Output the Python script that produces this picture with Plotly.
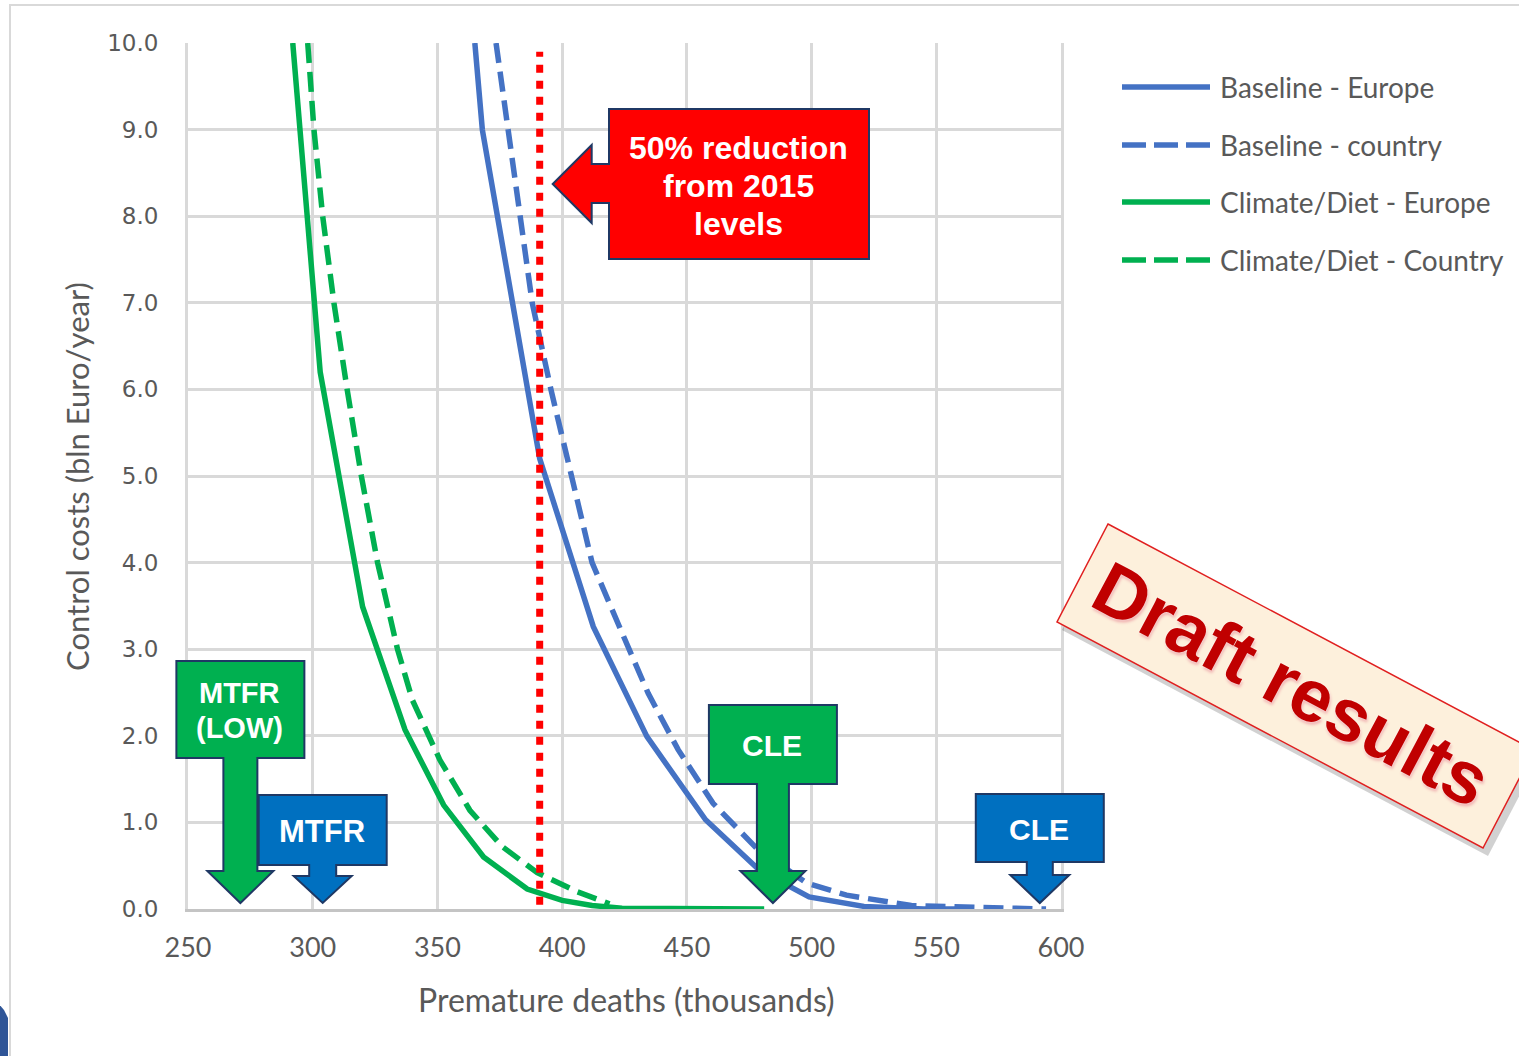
import plotly.graph_objects as go

# ---------------- data ----------------
x_ticks = [250, 300, 350, 400, 450, 500, 550, 600]
y_ticks = [0, 1, 2, 3, 4, 5, 6, 7, 8, 9, 10]

series_names = ["Baseline - Europe", "Baseline - country",
                "Climate/Diet - Europe", "Climate/Diet - Country"]
series_colors = ["#4472C4", "#4472C4", "#00B050", "#00B050"]
series_dashed = [False, True, False, True]

baseline_europe_x = [365, 368, 391, 412.5, 434, 457.5, 479, 499, 521, 545, 565]
baseline_europe_y = [10.0, 9.0, 5.2, 3.26, 1.99, 1.03, 0.45, 0.14, 0.03, 0.0, 0.0]

baseline_country_x = [373.5, 378.5, 383, 388, 395.5, 403.5, 412, 424, 434.5, 446.5,
                      460.5, 478, 498, 514, 540, 594]
baseline_country_y = [10.0, 9.0, 8.0, 7.0, 6.0, 5.0, 4.0, 3.19, 2.49, 1.84,
                      1.22, 0.70, 0.30, 0.16, 0.04, 0.0]

climate_europe_x = [292, 303, 320, 337, 352.5, 368.5, 386, 400, 412, 424, 481]
climate_europe_y = [10.0, 6.2, 3.49, 2.07, 1.2, 0.6, 0.23, 0.1, 0.04, 0.01, 0.0]

climate_country_x = [298, 300.5, 304, 308.5, 313.8, 319.5, 326, 334, 340, 351,
                     363, 376, 390, 406, 419]
climate_country_y = [10.0, 9.0, 8.0, 7.0, 6.0, 5.0, 4.0, 3.0, 2.41, 1.72,
                     1.14, 0.72, 0.42, 0.2, 0.06]

series_x = [baseline_europe_x, baseline_country_x, climate_europe_x, climate_country_x]
series_y = [baseline_europe_y, baseline_country_y, climate_europe_y, climate_country_y]

target_x = 391            # 50% reduction from 2015 levels
target_y = [0.05, 9.9]
target_label = ["50% reduction", "from 2015", "levels"]

callout_labels = [["MTFR", "(LOW)"], ["MTFR"], ["CLE"], ["CLE"]]
callout_x = [271, 304, 484.5, 591.5]
callout_fill = ["#00B050", "#0070C0", "#00B050", "#0070C0"]

stamp_text = "Draft results"

x_title = "Premature deaths (thousands)"
y_title = "Control costs (bln Euro/year)"

# ---------------- geometry helpers (pixels -> paper) ----------------
W, H = 1519, 1056
L, T = 188, 43
PW, PH = 873, 866
XR = (250, 600)


def X(v):
    return L + (v - XR[0]) / (XR[1] - XR[0]) * PW


def P(px, py):
    return (px - L) / PW, (T + PH - py) / PH


def path(points, close=True):
    s = ""
    for i, (px, py) in enumerate(points):
        a, b = P(px, py)
        s += ("M" if i == 0 else "L") + f"{a:.5f},{b:.5f} "
    return s + ("Z" if close else "")


def text_lines(lines, cx, cy, spacing, size, color="white"):
    n = len(lines)
    for i, ln in enumerate(lines):
        yy = cy + (i - (n - 1) / 2) * spacing
        a, b = P(cx, yy)
        annotations.append(dict(x=a, y=b, xref="paper", yref="paper", text=ln,
                                showarrow=False, xanchor="center", yanchor="middle",
                                font=dict(family="Liberation Sans, Arial", size=size,
                                          color=color, weight="bold")))


fig = go.Figure()

for name, xs, ys, col, dashed in zip(series_names, series_x, series_y,
                                     series_colors, series_dashed):
    fig.add_trace(go.Scatter(
        x=xs, y=ys, mode="lines", name=name, showlegend=False,
        line=dict(color=col, width=5.5, dash="20px,9px" if dashed else "solid"),
        cliponaxis=True))

fig.add_trace(go.Scatter(
    x=[target_x, target_x], y=target_y, mode="lines", showlegend=False,
    line=dict(color="#FF0000", width=7, dash="8px,8px")))

shapes = []
annotations = []

# frame of the slide
shapes.append(dict(type="path", xref="paper", yref="paper",
                   path=path([(10, 1060), (10, 5), (1525, 5)], close=False),
                   line=dict(color="#d9d9d9", width=2), layer="below"))
shapes.append(dict(type="path", xref="paper", yref="paper",
                   path=path([(-2, 1003), (4, 1010), (8, 1018), (8, 1060), (-2, 1060)]),
                   fillcolor="#2F5597", line=dict(width=0)))

# down-arrow callouts
geoms = [  # top, bottom, shaft half width, head half width, head y
    (661, 758, 17, 33, 871),
    (795, 865, 13.5, 29, 876),
    (705, 784, 16, 32.5, 871),
    (794, 862, 13, 29.5, 875),
]
tip_y = 903
fsizes = [29, 31, 30, 30]
for lab, xv, fill, (top, bot, shw, hhw, hy), fs in zip(callout_labels, callout_x,
                                                       callout_fill, geoms, fsizes):
    cx = X(xv)
    bl, br = cx - 64, cx + 64
    pts = [(bl, top), (br, top), (br, bot), (cx + shw, bot), (cx + shw, hy),
           (cx + hhw, hy), (cx, tip_y), (cx - hhw, hy), (cx - shw, hy),
           (cx - shw, bot), (bl, bot)]
    shapes.append(dict(type="path", xref="paper", yref="paper", path=path(pts),
                       fillcolor=fill, line=dict(color="#1F3864", width=2),
                       layer="above"))
    text_lines(lab, cx - 1, (top + bot) / 2 + 1, 35, fs)

# left-arrow red callout at the target line
tx = X(target_x) + 13
pts = [(609, 109), (869, 109), (869, 259), (609, 259), (609, 203), (tx + 39, 203),
       (tx + 39, 223), (tx, 184), (tx + 39, 145), (tx + 39, 164), (609, 164)]
shapes.append(dict(type="path", xref="paper", yref="paper", path=path(pts),
                   fillcolor="#FF0000", line=dict(color="#1F3864", width=2),
                   layer="above"))
text_lines(target_label, 738, 186, 38, 32)

# custom legend
leg_y = [87, 145, 202, 260]
for name, col, dashed, ly in zip(series_names, series_colors, series_dashed, leg_y):
    a0, b0 = P(1122, ly)
    a1, _ = P(1210, ly)
    shapes.append(dict(type="line", xref="paper", yref="paper", x0=a0, x1=a1,
                       y0=b0, y1=b0,
                       line=dict(color=col, width=5.5,
                                 dash="24px,8px" if dashed else "solid")))
    a, b = P(1218, ly)
    annotations.append(dict(x=a, y=b, xref="paper", yref="paper", text=name,
                            showarrow=False, xanchor="left", yanchor="middle",
                            font=dict(family="Lato", size=28, color="#595959")))

# Draft results stamp
corners = [(1108, 524), (1534, 750), (1483, 848), (1057, 622)]
shapes.append(dict(type="path", xref="paper", yref="paper",
                   path=path([(px + 5, py + 8) for px, py in corners]),
                   fillcolor="rgba(0,0,0,0.18)", line=dict(width=0), layer="above"))
shapes.append(dict(type="path", xref="paper", yref="paper", path=path(corners),
                   fillcolor="#FDF0DC", line=dict(color="#E02020", width=1.5),
                   layer="above"))
a, b = P(1292, 684)
annotations.append(dict(x=a, y=b, xref="paper", yref="paper", text=stamp_text,
                        showarrow=False, xanchor="center", yanchor="middle",
                        textangle=28,
                        font=dict(family="Liberation Sans, Arial", size=74,
                                  color="#C00000", weight="bold",
                                  shadow="0px 0px 2px white, 2px 2px 3px #f0b0b0")))

# axis titles
a, b = P(626, 1000)
annotations.append(dict(x=a, y=b, xref="paper", yref="paper", text=x_title,
                        showarrow=False, xanchor="center", yanchor="middle",
                        font=dict(family="Lato", size=32, color="#595959")))
a, b = P(77, 477)
annotations.append(dict(x=a, y=b, xref="paper", yref="paper", text=y_title,
                        showarrow=False, xanchor="center", yanchor="middle",
                        textangle=-90,
                        font=dict(family="Lato", size=31, color="#595959")))

fig.update_layout(
    width=W, height=H,
    margin=dict(l=L, r=W - L - PW, t=T, b=H - T - PH, pad=0),
    paper_bgcolor="white", plot_bgcolor="white",
    shapes=shapes, annotations=annotations, showlegend=False,
    xaxis=dict(range=list(XR), tickvals=x_ticks, ticktext=[str(v) for v in x_ticks],
               showgrid=True, gridcolor="#d9d9d9", gridwidth=3, zeroline=False,
               showline=True, linecolor="#c4c4c4", linewidth=3, mirror=False,
               ticks="", ticklabelstandoff=13,
               tickfont=dict(family="Lato", size=27, color="#595959")),
    yaxis=dict(range=[0, 10], tickvals=y_ticks,
               ticktext=[f"{v:.1f}" for v in y_ticks],
               showgrid=True, gridcolor="#d9d9d9", gridwidth=3, zeroline=False,
               showline=True, linecolor="#d9d9d9", linewidth=3, mirror=True,
               ticks="", ticklabelstandoff=22,
               tickfont=dict(family="DejaVu Sans", size=23, color="#595959")),
)

fig.write_html("out.html", config=dict(displayModeBar=False),
               post_script="document.body.style.margin='0';document.body.style.overflow='hidden';")
